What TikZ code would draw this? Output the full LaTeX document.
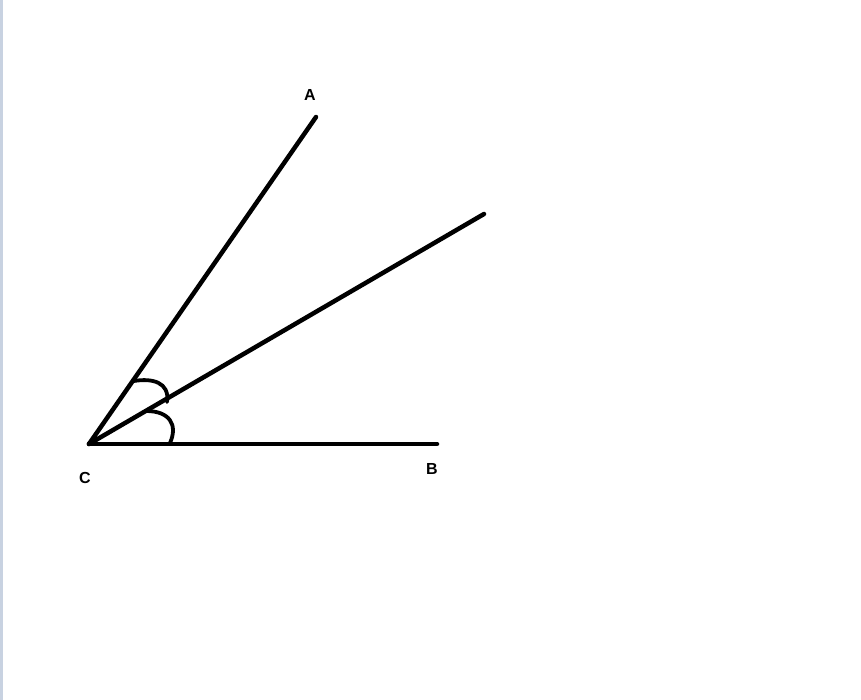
\documentclass[tikz,border=0pt]{standalone}
\usepackage{fontspec}
\setmainfont{Liberation Sans}
\begin{document}
\begin{tikzpicture}[x=1pt,y=-1pt,
  ray/.style={line width=4.5pt,line cap=round,black},
  anglemark/.style={line width=3.8pt,line cap=round,black},
  lbl/.style={font=\bfseries\fontsize{16}{18}\selectfont,inner sep=0pt}]
\useasboundingbox (0,0) rectangle (861,700);
\fill[white] (0,0) rectangle (861,700);
\fill[fill={rgb,255:red,200;green,210;blue,225}] (0,0) rectangle (3,700);
\coordinate (C) at (89,444);
\coordinate (A) at (316,117);
\coordinate (M) at (484,214);
\coordinate (B) at (437,444);
\draw[ray] (C) -- (A);
\draw[ray] (C) -- (M);
\draw[ray] (C) -- (B);
\coordinate (u1) at (134,381);
\coordinate (u2) at (167,402);
\coordinate (l1) at (146,411);
\coordinate (l2) at (170,443);
\draw[anglemark] (u1) .. controls (152,378) and (170,382) .. (u2);
\draw[anglemark] (l1) .. controls (170,411) and (178,425) .. (l2);
\node[lbl] (la) at (310,95) {A};
\node[lbl] (lb) at (432,469) {B};
\node[lbl] (lc) at (85,478) {C};
\end{tikzpicture}
\end{document}
